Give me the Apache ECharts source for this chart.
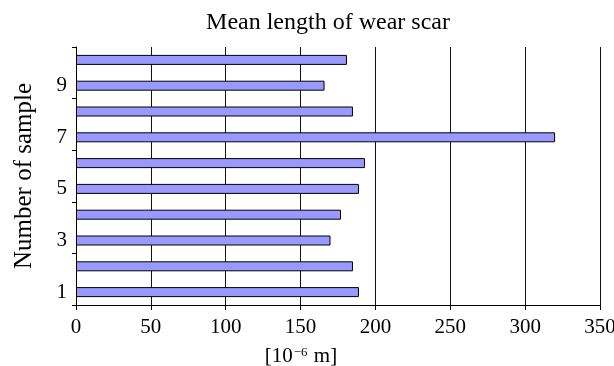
<!DOCTYPE html>
<html>
<head>
<meta charset="utf-8">
<script src="https://cdn.jsdelivr.net/npm/echarts@6/dist/echarts.min.js"></script>
<style>
  html, body { margin: 0; padding: 0; background: #fff; }
  #chart { width: 614px; height: 366px; }
</style>
</head>
<body>
<div id="chart"></div>
<script>
// Sample numbers (bottom to top) and their mean wear-scar length in 10^-6 m
const samples = ['1', '2', '3', '4', '5', '6', '7', '8', '9', '10'];
const scarLength = [189, 185, 170, 177, 189, 193, 320, 185, 166, 181];
const xTicks = { min: 0, max: 350, interval: 50 };

const serif = '"Liberation Serif", "DejaVu Serif", serif';

const chart = echarts.init(document.getElementById('chart'), null, { renderer: 'canvas' });
chart.setOption({
  animation: false,
  backgroundColor: '#fff',
  title: {
    text: 'Mean length of wear scar',
    left: 323,
    textAlign: 'center',
    top: 6,
    textStyle: { fontFamily: serif, fontSize: 24, fontWeight: 'normal', color: '#000' }
  },
  grid: {
    left: 76, right: 14, top: 47, bottom: 61,
    containLabel: false,
    outerBoundsMode: 'none'
  },
  xAxis: {
    type: 'value',
    min: xTicks.min,
    max: xTicks.max,
    interval: xTicks.interval,
    name: '{b|[10}{s|−6}{b| m]}',
    nameLocation: 'middle',
    nameGap: 41,
    nameTextStyle: {
      padding: [0, 74, 0, 0],
      rich: {
        b: { fontFamily: serif, fontSize: 21, lineHeight: 21, color: '#000', verticalAlign: 'bottom' },
        s: { fontFamily: serif, fontSize: 13, lineHeight: 13, color: '#000', verticalAlign: 'top', padding: [0, 1, 6, 1] }
      }
    },
    axisLine: { show: true, lineStyle: { color: '#000', width: 1 } },
    axisTick: { show: true, length: 5, lineStyle: { color: '#000' } },
    axisLabel: { fontFamily: serif, fontSize: 21, color: '#000', margin: 12 },
    splitLine: { show: true, lineStyle: { color: '#111', width: 1 } }
  },
  yAxis: {
    type: 'category',
    data: samples,
    name: 'Number of sample',
    nameLocation: 'middle',
    nameGap: 39,
    nameTextStyle: { fontFamily: serif, fontSize: 25, color: '#000' },
    axisLine: { show: true, lineStyle: { color: '#000', width: 1 } },
    axisTick: { show: true, length: 4, inside: false, lineStyle: { color: '#000' } },
    axisLabel: { interval: 1, fontFamily: serif, fontSize: 21, color: '#000', margin: 9 },
    splitLine: { show: false }
  },
  series: [{
    type: 'bar',
    data: scarLength,
    barWidth: 10,
    itemStyle: { color: '#9999ff', borderColor: '#000', borderWidth: 1 }
  }]
});
</script>
</body>
</html>
